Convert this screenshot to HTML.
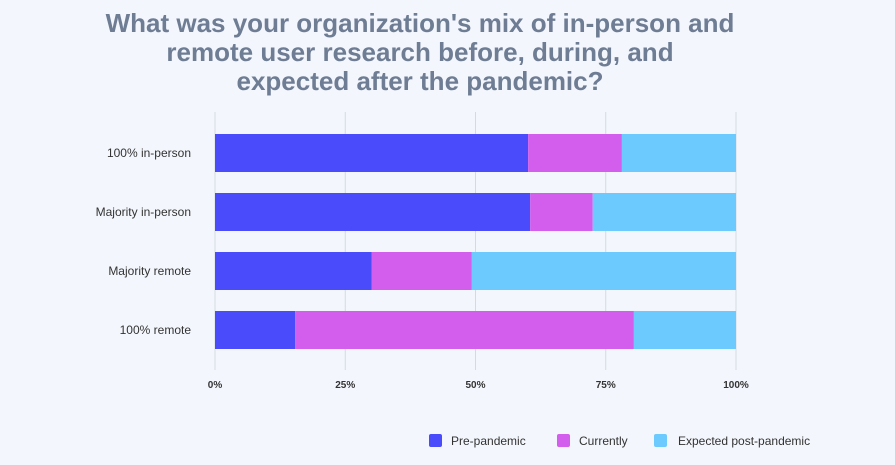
<!DOCTYPE html>
<html><head><meta charset="utf-8"><style>
body{margin:0;background:#f3f6fc;font-family:"Liberation Sans",sans-serif;}
svg{display:block}
</style></head><body>
<svg width="895" height="465">
<rect width="895" height="465" fill="#f3f6fc"/>
<g fill="#6e7d94" font-size="26" font-weight="bold" text-anchor="middle">
<text x="420" y="32">What was your organization's mix of in-person and</text>
<text x="420" y="61">remote user research before, during, and</text>
<text x="420" y="90">expected after the pandemic?</text>
</g>
<g id="grid"></g>
<g id="bars"></g>
<g id="ylabels"></g>
<g id="xlabels"></g>
<g font-size="12" fill="#333">
<g><rect x="429" y="434" width="13" height="13" rx="2" fill="#4a4bfa"/><text x="451" y="445" fill="#333">Pre-pandemic</text></g>
<g><rect x="557" y="434" width="13" height="13" rx="2" fill="#d35ded"/><text x="579" y="445" fill="#333">Currently</text></g>
<g><rect x="654" y="434" width="13" height="13" rx="2" fill="#6ccafe"/><text x="678" y="445" fill="#333">Expected post-pandemic</text></g>
</g>
</svg>
<script>
const categories=["100% in-person","Majority in-person","Majority remote","100% remote"];
const prePandemic=[60.1,60.5,30.1,15.4];
const currently=[18,12,19.2,65];
const expected=[21.9,27.5,50.7,19.6];
const xTicks=[0,25,50,75,100];
const xTickLabels=["0%","25%","50%","75%","100%"];
const NS="http://www.w3.org/2000/svg";
const x0=215,x1=736;
const xs=v=>x0+(x1-x0)*v/100;
const yBand=i=>134+i*59;
const bh=38;
function mk(tag,attrs,parent){const e=document.createElementNS(NS,tag);for(const k in attrs)e.setAttribute(k,attrs[k]);parent.appendChild(e);return e;}
const grid=document.getElementById('grid'),bars=document.getElementById('bars'),yl=document.getElementById('ylabels'),xl=document.getElementById('xlabels');
xTicks.forEach((t,i)=>{
 const l=mk('line',{x1:xs(t),x2:xs(t),y1:112,y2:370,stroke:'#d4d9e2','stroke-width':1},grid);
 
 
 const tx=mk('text',{x:xs(t),y:388,'text-anchor':'middle','font-size':10,'font-weight':'bold',fill:'#333'},xl);
 tx.textContent=xTickLabels[i];
 
 
});
const series=[[prePandemic,'#4a4bfa','pre-pandemic'],[currently,'#d35ded','currently'],[expected,'#6ccafe','expected']];
categories.forEach((c,i)=>{
 let acc=0;
 series.forEach(([arr,col,nm])=>{
  const r=mk('rect',{x:xs(acc),y:yBand(i),width:xs(acc+arr[i])-xs(acc),height:bh,fill:col},bars);
  
  
  acc+=arr[i];
 });
 const t=mk('text',{x:191,y:yBand(i)+bh/2+4,'text-anchor':'end','font-size':12,fill:'#333'},yl);
 t.textContent=c;
 
 
});
</script>
</body></html>
